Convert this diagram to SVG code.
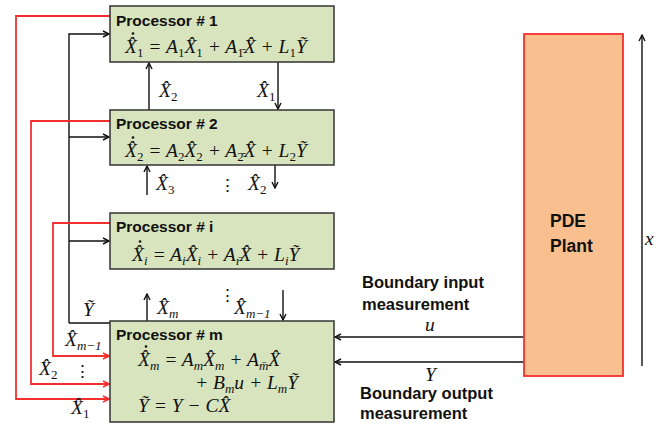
<svg xmlns="http://www.w3.org/2000/svg" width="667" height="424" viewBox="0 0 667 424">
<defs>
<style>
.box{fill:#D7E4BD;stroke:#333;stroke-width:1.5}
.t{font-family:"Liberation Sans",Arial,sans-serif;font-weight:bold;font-size:15.5px;fill:#111}
.b{font-size:16.5px}
.pl{font-size:17.5px}
.eq{font-family:"Liberation Serif","DejaVu Serif",serif;font-style:italic;font-size:19.5px;fill:#111}
.s{font-size:13px;font-style:normal}
.si{font-size:13px}
.v{font-family:"Liberation Serif",serif;font-size:17px;fill:#111}
.k{stroke:#111;stroke-width:1.4;fill:none}
.r{stroke:#F23030;stroke-width:1.8;fill:none}
.d{fill:#111}
</style>
<marker id="ak" markerWidth="8" markerHeight="8" refX="7" refY="4" orient="auto" markerUnits="userSpaceOnUse"><path d="M1,1 L7,4 L1,7" fill="none" stroke="#111" stroke-width="1.4"/></marker>
<marker id="ar" markerWidth="8" markerHeight="8" refX="7" refY="4" orient="auto" markerUnits="userSpaceOnUse"><path d="M1,1 L7,4 L1,7" fill="none" stroke="#F23030" stroke-width="1.6"/></marker>
</defs>
<rect width="667" height="424" fill="#fff"/>

<g id="connectors">
<path class="k" d="M69,323 V34 H109" marker-end="url(#ak)"/>
<path class="k" d="M69,137 H109" marker-end="url(#ak)"/>
<path class="k" d="M69,241 H109" marker-end="url(#ak)"/>
<path class="k" d="M69,323 H110"/>
<path class="r" d="M110,16 H16 V399 H109" marker-end="url(#ar)"/>
<path class="r" d="M110,121 H31 V384 H109" marker-end="url(#ar)"/>
<path class="r" d="M110,223 H53 V356 H109" marker-end="url(#ar)"/>
<path class="k" d="M149,110 V63" marker-end="url(#ak)"/>
<path class="k" d="M278,62 V109" marker-end="url(#ak)"/>
<path class="k" d="M147,195 V166" marker-end="url(#ak)"/>
<path class="k" d="M275,165 V188" marker-end="url(#ak)"/>
<path class="k" d="M147,321 V294" marker-end="url(#ak)"/>
<path class="k" d="M283,290 V320" marker-end="url(#ak)"/>
<path class="k" d="M524,337 H335" marker-end="url(#ak)"/>
<path class="k" d="M524,362 H335" marker-end="url(#ak)"/>
<path class="k" d="M642,366 V35" marker-end="url(#ak)"/>
</g>

<g id="p1">
<rect class="box" x="110" y="6" width="224" height="56"/>
<text class="t" x="116" y="26">Processor # 1</text>
<text class="eq" x="125" y="53">X&#x302;<tspan class="s" dy="4">1</tspan><tspan dy="-4"> = A</tspan><tspan class="s" dy="4">1</tspan><tspan dy="-4">X&#x302;</tspan><tspan class="s" dy="4">1</tspan><tspan dy="-4"> + A</tspan><tspan class="s" dy="4">1&#x304;</tspan><tspan dy="-4">X&#x302; + L</tspan><tspan class="s" dy="4">1</tspan><tspan dy="-4">Y&#x303;</tspan></text>
<circle class="d" cx="133" cy="33.5" r="1.3"/>
</g>

<g id="p2">
<rect class="box" x="110" y="110" width="224" height="55"/>
<text class="t" x="116" y="129">Processor # 2</text>
<text class="eq" x="125" y="157">X&#x302;<tspan class="s" dy="4">2</tspan><tspan dy="-4"> = A</tspan><tspan class="s" dy="4">2</tspan><tspan dy="-4">X&#x302;</tspan><tspan class="s" dy="4">2</tspan><tspan dy="-4"> + A</tspan><tspan class="s" dy="4">2&#x304;</tspan><tspan dy="-4">X&#x302; + L</tspan><tspan class="s" dy="4">2</tspan><tspan dy="-4">Y&#x303;</tspan></text>
<circle class="d" cx="133" cy="137.5" r="1.3"/>
</g>

<g id="pi">
<rect class="box" x="110" y="213" width="224" height="56"/>
<text class="t" x="116" y="232">Processor # i</text>
<text class="eq" x="132" y="261">X&#x302;<tspan class="si" dy="4">i</tspan><tspan dy="-4"> = A</tspan><tspan class="si" dy="4">i</tspan><tspan dy="-4">X&#x302;</tspan><tspan class="si" dy="4">i</tspan><tspan dy="-4"> + A</tspan><tspan class="si" dy="4">&#x131;&#x304;</tspan><tspan dy="-4">X&#x302; + L</tspan><tspan class="si" dy="4">i</tspan><tspan dy="-4">Y&#x303;</tspan></text>
<circle class="d" cx="140" cy="241.5" r="1.3"/>
</g>

<g id="pm">
<rect class="box" x="110" y="321" width="224" height="101"/>
<text class="t" x="116" y="340">Processor # m</text>
<text class="eq" x="138" y="366">X&#x302;<tspan class="si" dy="4">m</tspan><tspan dy="-4"> = A</tspan><tspan class="si" dy="4">m</tspan><tspan dy="-4">X&#x302;</tspan><tspan class="si" dy="4">m</tspan><tspan dy="-4"> + A</tspan><tspan class="si" dy="4">m&#x304;</tspan><tspan dy="-4">X&#x302;</tspan></text>
<circle class="d" cx="146" cy="346.5" r="1.3"/>
<text class="eq" x="195" y="389">+ B<tspan class="si" dy="4">m</tspan><tspan dy="-4">u + L</tspan><tspan class="si" dy="4">m</tspan><tspan dy="-4">Y&#x303;</tspan></text>
<text class="eq" x="138" y="412">Y&#x303; = Y − CX&#x302;</text>
</g>

<g id="plant">
<rect x="524" y="34" width="99" height="342" fill="#F9BF8F" stroke="#F23030" stroke-width="1.8"/>
<text class="t pl" x="550" y="227">PDE</text>
<text class="t pl" x="550" y="252">Plant</text>
</g>

<g id="labels">
<text class="eq" x="159" y="97">X&#x302;<tspan class="s" dy="4">2</tspan></text>
<text class="eq" x="257" y="97">X&#x302;<tspan class="s" dy="4">1</tspan></text>
<text class="eq" x="156" y="190">X&#x302;<tspan class="s" dy="4">3</tspan></text>
<text class="v" x="219" y="191">⋮</text>
<text class="eq" x="248" y="190">X&#x302;<tspan class="s" dy="4">2</tspan></text>
<text class="eq" x="157" y="314">X&#x302;<tspan class="si" dy="4">m</tspan></text>
<text class="v" x="219" y="301">⋮</text>
<text class="eq" x="234" y="314">X&#x302;<tspan class="si" dy="4">m−1</tspan></text>
<text class="eq" x="83" y="316">Y&#x303;</text>
<text class="eq" x="65" y="346">X&#x302;<tspan class="si" dy="4">m−1</tspan></text>
<text class="eq" x="39" y="375">X&#x302;<tspan class="s" dy="4">2</tspan></text>
<text class="v" x="74" y="377">⋮</text>
<text class="eq" x="71" y="414">X&#x302;<tspan class="s" dy="4">1</tspan></text>
<text class="eq" x="425" y="331">u</text>
<text class="eq" x="425" y="381">Y</text>
<text class="eq" x="645" y="245">x</text>
<text class="t b" x="362" y="288">Boundary input</text>
<text class="t b" x="362" y="310">measurement</text>
<text class="t b" x="360" y="399">Boundary output</text>
<text class="t b" x="360" y="419">measurement</text>
</g>
</svg>
